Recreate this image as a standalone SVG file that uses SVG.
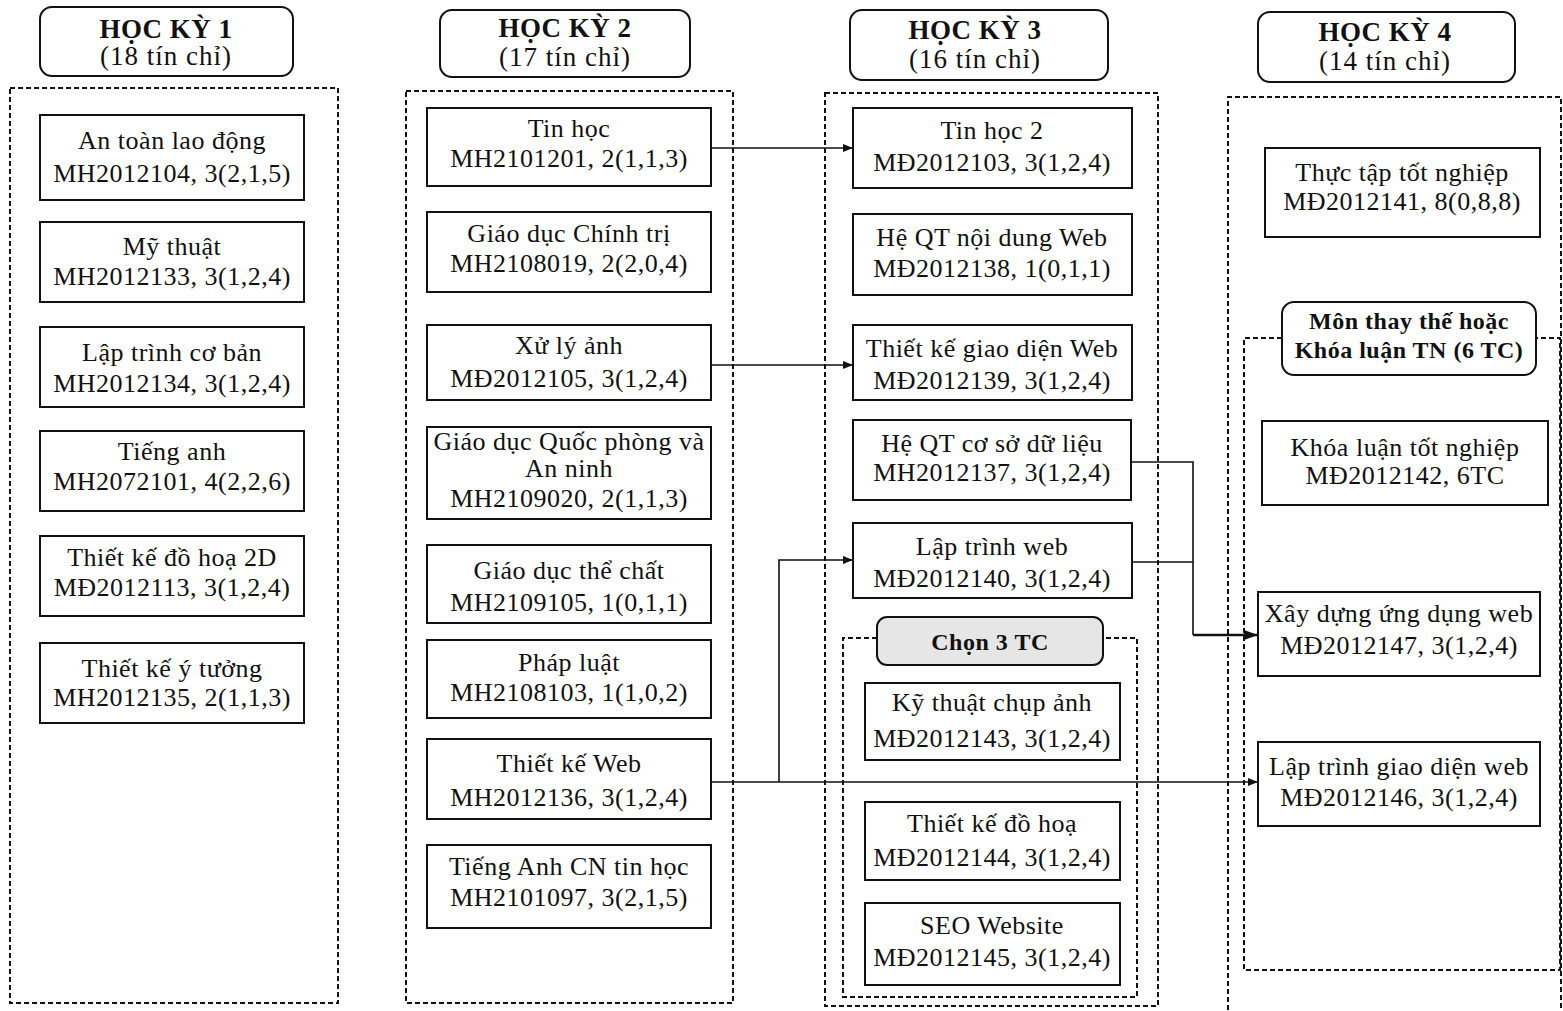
<svg xmlns="http://www.w3.org/2000/svg" width="1563" height="1011" viewBox="0 0 1563 1011">
<style>
.bg{fill:#fff}
.cont{fill:none;stroke:#111;stroke-width:2;stroke-dasharray:5,3}
.box{fill:#fff;stroke:#111;stroke-width:2}
.hdr{fill:#fff;stroke:#111;stroke-width:2}
.sel{fill:#e6e6e6;stroke:#111;stroke-width:2}
text{font-family:"Liberation Serif","DejaVu Serif",serif;fill:#111;text-anchor:middle}
.t{font-size:26px;letter-spacing:0.5px}
.h1{font-size:27px;font-weight:bold;letter-spacing:0.5px}
.h2{font-size:27px;letter-spacing:1px}
.hb{font-size:24px;font-weight:bold;letter-spacing:0.5px}
.conn{fill:none;stroke:#111;stroke-width:1.6}
.thick{stroke-width:2.6}
</style>
<defs>
<marker id="arr" markerWidth="10" markerHeight="8" refX="10" refY="4" orient="auto" markerUnits="userSpaceOnUse">
<path d="M0,0 L10,4 L0,8 z" fill="#111"/>
</marker>
<marker id="arrb" markerWidth="14" markerHeight="10" refX="14" refY="5" orient="auto" markerUnits="userSpaceOnUse">
<path d="M0,0 L14,5 L0,10 z" fill="#111"/>
</marker>
</defs>
<rect class="bg" x="0" y="0" width="1563" height="1011"/>

<g id="containers">
<rect class="cont" x="10" y="88" width="328" height="915"/>
<rect class="cont" x="406" y="91" width="327" height="912"/>
<rect class="cont" x="825" y="93" width="333" height="913"/>
<path class="cont" d="M1228,1010 L1228,97 L1561,97 L1561,1010"/>
<path class="cont" d="M877,638 L843,638 L843,997 L1137,997 L1137,638 L1103,638"/>
<path class="cont" d="M1282,338 L1244,338 L1244,970 L1560,970 L1560,338 L1536,338"/>
</g>

<g id="hk1"><rect class="hdr" x="40" y="7" width="253" height="69" rx="12"/><text class="h1" x="166" y="38">HỌC KỲ 1</text><text class="h2" x="166" y="65">(18 tín chỉ)</text></g>
<g id="hk2"><rect class="hdr" x="440" y="10" width="250" height="67" rx="12"/><text class="h1" x="565" y="37">HỌC KỲ 2</text><text class="h2" x="565" y="66">(17 tín chỉ)</text></g>
<g id="hk3"><rect class="hdr" x="850" y="10" width="258" height="70" rx="12"/><text class="h1" x="975" y="39">HỌC KỲ 3</text><text class="h2" x="975" y="68">(16 tín chỉ)</text></g>
<g id="hk4"><rect class="hdr" x="1258" y="12" width="257" height="70" rx="12"/><text class="h1" x="1385" y="41">HỌC KỲ 4</text><text class="h2" x="1385" y="70">(14 tín chỉ)</text></g>

<g id="n_atld"><rect class="box" x="40" y="115" width="264" height="85"/><text class="t" x="172" y="149">An toàn lao động</text><text class="t" x="172" y="182">MH2012104, 3(2,1,5)</text></g>
<g id="n_mythuat"><rect class="box" x="40" y="222" width="264" height="80"/><text class="t" x="172" y="255">Mỹ thuật</text><text class="t" x="172" y="285">MH2012133, 3(1,2,4)</text></g>
<g id="n_ltcb"><rect class="box" x="40" y="327" width="264" height="80"/><text class="t" x="172" y="361">Lập trình cơ bản</text><text class="t" x="172" y="392">MH2012134, 3(1,2,4)</text></g>
<g id="n_tienganh"><rect class="box" x="40" y="431" width="264" height="80"/><text class="t" x="172" y="460">Tiếng anh</text><text class="t" x="172" y="490">MH2072101, 4(2,2,6)</text></g>
<g id="n_tkdh2d"><rect class="box" x="40" y="536" width="264" height="80"/><text class="t" x="172" y="566">Thiết kế đồ hoạ 2D</text><text class="t" x="172" y="596">MĐ2012113, 3(1,2,4)</text></g>
<g id="n_tkyt"><rect class="box" x="40" y="643" width="264" height="80"/><text class="t" x="172" y="677">Thiết kế ý tưởng</text><text class="t" x="172" y="706">MH2012135, 2(1,1,3)</text></g>

<g id="n_tinhoc"><rect class="box" x="427" y="108" width="284" height="78"/><text class="t" x="569" y="137">Tin học</text><text class="t" x="569" y="167">MH2101201, 2(1,1,3)</text></g>
<g id="n_gdct"><rect class="box" x="427" y="212" width="284" height="80"/><text class="t" x="569" y="242">Giáo dục Chính trị</text><text class="t" x="569" y="272">MH2108019, 2(2,0,4)</text></g>
<g id="n_xla"><rect class="box" x="427" y="325" width="284" height="75"/><text class="t" x="569" y="354">Xử lý ảnh</text><text class="t" x="569" y="387">MĐ2012105, 3(1,2,4)</text></g>
<g id="n_gdqp"><rect class="box" x="427" y="427" width="284" height="92"/><text class="t" x="569" y="450">Giáo dục Quốc phòng và</text><text class="t" x="569" y="477">An ninh</text><text class="t" x="569" y="507">MH2109020, 2(1,1,3)</text></g>
<g id="n_gdtc"><rect class="box" x="427" y="545" width="284" height="78"/><text class="t" x="569" y="579">Giáo dục thể chất</text><text class="t" x="569" y="611">MH2109105, 1(0,1,1)</text></g>
<g id="n_phapluat"><rect class="box" x="427" y="640" width="284" height="78"/><text class="t" x="569" y="671">Pháp luật</text><text class="t" x="569" y="701">MH2108103, 1(1,0,2)</text></g>
<g id="n_tkweb"><rect class="box" x="427" y="739" width="284" height="80"/><text class="t" x="569" y="772">Thiết kế Web</text><text class="t" x="569" y="806">MH2012136, 3(1,2,4)</text></g>
<g id="n_tacn"><rect class="box" x="427" y="845" width="284" height="83"/><text class="t" x="569" y="875">Tiếng Anh CN tin học</text><text class="t" x="569" y="906">MH2101097, 3(2,1,5)</text></g>

<g id="n_tinhoc2"><rect class="box" x="853" y="108" width="279" height="80"/><text class="t" x="992" y="139">Tin học 2</text><text class="t" x="992" y="171">MĐ2012103, 3(1,2,4)</text></g>
<g id="n_hqtnd"><rect class="box" x="853" y="214" width="279" height="81"/><text class="t" x="992" y="246">Hệ QT nội dung Web</text><text class="t" x="992" y="277">MĐ2012138, 1(0,1,1)</text></g>
<g id="n_tkgd"><rect class="box" x="853" y="325" width="279" height="75"/><text class="t" x="992" y="357">Thiết kế giao diện Web</text><text class="t" x="992" y="389">MĐ2012139, 3(1,2,4)</text></g>
<g id="n_hqtcsdl"><rect class="box" x="853" y="420" width="278" height="80"/><text class="t" x="992" y="452">Hệ QT cơ sở dữ liệu</text><text class="t" x="992" y="481">MH2012137, 3(1,2,4)</text></g>
<g id="n_ltweb"><rect class="box" x="853" y="523" width="279" height="75"/><text class="t" x="992" y="555">Lập trình web</text><text class="t" x="992" y="587">MĐ2012140, 3(1,2,4)</text></g>
<g id="n_chon3"><rect class="sel" x="877" y="617" width="226" height="48" rx="10"/><text class="hb" x="990" y="650">Chọn 3 TC</text></g>
<g id="n_ktca"><rect class="box" x="865" y="683" width="255" height="77"/><text class="t" x="992" y="711">Kỹ thuật chụp ảnh</text><text class="t" x="992" y="747">MĐ2012143, 3(1,2,4)</text></g>
<g id="n_tkdh"><rect class="box" x="865" y="802" width="255" height="78"/><text class="t" x="992" y="832">Thiết kế đồ hoạ</text><text class="t" x="992" y="866">MĐ2012144, 3(1,2,4)</text></g>
<g id="n_seo"><rect class="box" x="865" y="903" width="255" height="82"/><text class="t" x="992" y="934">SEO Website</text><text class="t" x="992" y="966">MĐ2012145, 3(1,2,4)</text></g>

<g id="n_tttn"><rect class="box" x="1265" y="148" width="275" height="89"/><text class="t" x="1402" y="181">Thực tập tốt nghiệp</text><text class="t" x="1402" y="210">MĐ2012141, 8(0,8,8)</text></g>
<g id="n_monthay"><rect class="hdr" x="1282" y="302" width="254" height="73" rx="12"/><text class="hb" x="1409" y="329">Môn thay thế hoặc</text><text class="hb" x="1409" y="358">Khóa luận TN (6 TC)</text></g>
<g id="n_kltn"><rect class="box" x="1262" y="421" width="286" height="84"/><text class="t" x="1405" y="456">Khóa luận tốt nghiệp</text><text class="t" x="1405" y="484">MĐ2012142, 6TC</text></g>
<g id="n_xdud"><rect class="box" x="1258" y="592" width="282" height="84"/><text class="t" x="1399" y="622">Xây dựng ứng dụng web</text><text class="t" x="1399" y="654">MĐ2012147, 3(1,2,4)</text></g>
<g id="n_ltgd"><rect class="box" x="1258" y="742" width="282" height="84"/><text class="t" x="1399" y="775">Lập trình giao diện web</text><text class="t" x="1399" y="806">MĐ2012146, 3(1,2,4)</text></g>

<g id="connectors">
<path class="conn" d="M711,148 L853,148" marker-end="url(#arr)"/>
<path class="conn" d="M711,365 L853,365" marker-end="url(#arr)"/>
<path class="conn" d="M1131,462 L1193,462 L1193,635"/>
<path class="conn" d="M1132,562 L1193,562"/>
<path class="conn thick" d="M1193,635 L1258,635" marker-end="url(#arrb)"/>
<path class="conn" d="M711,782 L1258,782" marker-end="url(#arr)"/>
<path class="conn" d="M779,782 L779,560 L853,560" marker-end="url(#arr)"/>
</g>
</svg>
